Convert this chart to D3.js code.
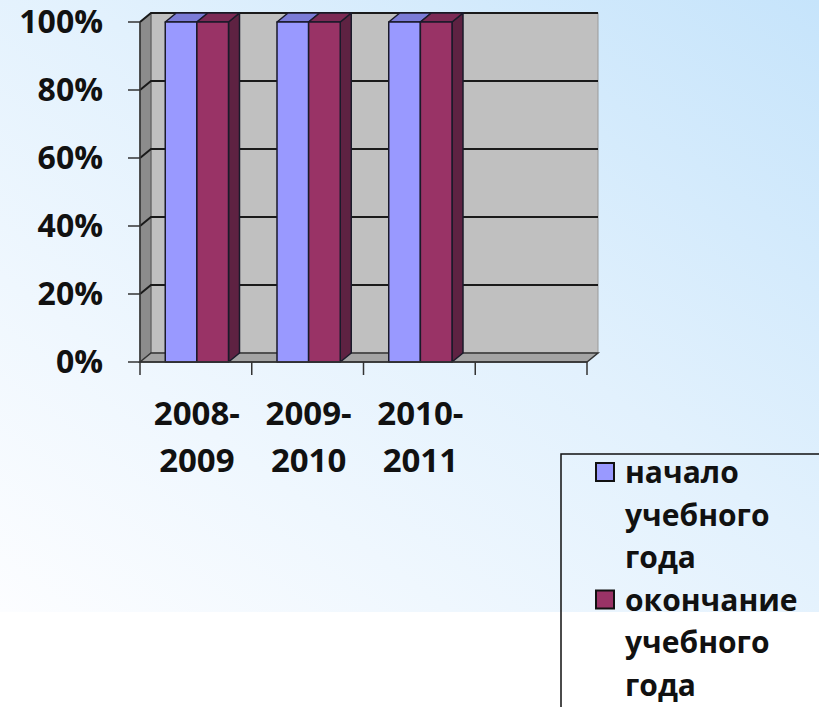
<!DOCTYPE html>
<html>
<head>
<meta charset="utf-8">
<script src="https://cdn.jsdelivr.net/npm/d3@7"></script>
<style>
  html, body { margin: 0; padding: 0; background: #fff; }
  svg { display: block; font-family: 'Open Sans', sans-serif; font-weight: bold; }
</style>
</head>
<body>
<svg id="chart" width="819" height="707"></svg>
<script>
const categories = ['2008-2009', '2009-2010', '2010-2011', '']
const seriesNames = ['начало учебного года', 'окончание учебного года']
const startValues = [1, 1, 1, null]
const endValues = [1, 1, 1, null]
const yTicks = [0, 0.2, 0.4, 0.6, 0.8, 1]

const colors = ['#9999ff', '#993366']
const topColors = ['#7b7bd6', '#7c2a55']
const sideColors = ['#6f6fc0', '#5e2242']

const svg = d3.select('#chart')

// фон слайда
const defs = svg.append('defs')
const grad = defs.append('linearGradient')
  .attr('id', 'bg').attr('x1', '0').attr('y1', '1').attr('x2', '1').attr('y2', '0')
grad.append('stop').attr('offset', '0').attr('stop-color', '#fcfdff')
grad.append('stop').attr('offset', '0.55').attr('stop-color', '#e2f1fd')
grad.append('stop').attr('offset', '1').attr('stop-color', '#c6e4fb')
svg.append('rect').attr('width', 819).attr('height', 612).attr('fill', 'url(#bg)')

// псевдо-3D глубина
const dx = 11
const dy = -9

const x = d3.scaleBand().domain(categories).range([140, 587])
const y = d3.scaleLinear().domain([0, 1]).range([362, 22])

const walls = svg.append('g')
// задняя стенка
walls.append('rect')
  .attr('x', x.range()[0] + dx).attr('y', y(1) + dy)
  .attr('width', x.range()[1] - x.range()[0]).attr('height', y(0) - y(1))
  .attr('fill', '#c0c0c0').attr('stroke', '#9a9a9a').attr('stroke-width', 1)
// боковая стенка
walls.append('polygon')
  .attr('points', [[140, y(1)], [140 + dx, y(1) + dy], [140 + dx, y(0) + dy], [140, y(0)]].join(' '))
  .attr('fill', '#8c8c8c').attr('stroke', '#555').attr('stroke-width', 1)
// пол
walls.append('polygon')
  .attr('points', [[140, y(0)], [140 + dx, y(0) + dy], [587 + dx, y(0) + dy], [587, y(0)]].join(' '))
  .attr('fill', '#a4a4a4').attr('stroke', '#333').attr('stroke-width', 1.5)

// линии сетки
const grid = svg.append('g')
grid.selectAll('path').data(yTicks.filter(d => d > 0)).enter().append('path')
  .attr('d', d => `M140,${y(d)}L${140 + dx},${y(d) + dy}L${587 + dx},${y(d) + dy}`)
  .attr('fill', 'none').attr('stroke', '#1a1a1a').attr('stroke-width', 2)

// столбцы
const band = x.bandwidth()
const barW = band * 0.283
const series = [startValues, endValues]
const bars = svg.append('g')
categories.forEach((cat, i) => {
  series.forEach((vals, s) => {
    const v = vals[i]
    if (v == null) return
    const x0 = x(cat) + (band - 2 * barW) / 2 + 1 + s * barW
    const x1 = x0 + barW
    const y0 = y(0)
    const y1 = y(v)
    const g = bars.append('g').attr('stroke', '#1a1a2a').attr('stroke-width', 1.5)
      .attr('stroke-linejoin', 'round')
    g.append('polygon')
      .attr('points', [[x1, y1], [x1 + dx, y1 + dy], [x1 + dx, y0 + dy], [x1, y0]].join(' '))
      .attr('fill', sideColors[s])
    g.append('polygon')
      .attr('points', [[x0, y1], [x0 + dx, y1 + dy], [x1 + dx, y1 + dy], [x1, y1]].join(' '))
      .attr('fill', topColors[s])
    g.append('rect')
      .attr('x', x0).attr('y', y1).attr('width', barW).attr('height', y0 - y1)
      .attr('fill', colors[s])
  })
})

// ось Y
const yAxis = svg.append('g')
yAxis.append('line').attr('x1', 140).attr('x2', 140).attr('y1', y(1)).attr('y2', y(0))
  .attr('stroke', '#333').attr('stroke-width', 1.5)
yAxis.selectAll('line.tick').data(yTicks).enter().append('line').attr('class', 'tick')
  .attr('x1', 128).attr('x2', 140).attr('y1', d => y(d)).attr('y2', d => y(d))
  .attr('stroke', '#333').attr('stroke-width', 1.5)
yAxis.selectAll('text').data(yTicks).enter().append('text')
  .attr('x', 103).attr('y', d => y(d) + 11)
  .attr('text-anchor', 'end').attr('font-size', 32).attr('fill', '#111')
  .text(d => d3.format('.0%')(d))

// ось X
const xAxis = svg.append('g')
xAxis.append('line').attr('x1', 140).attr('x2', 587).attr('y1', y(0)).attr('y2', y(0))
  .attr('stroke', '#333').attr('stroke-width', 1.5)
const xTicks = categories.map(c => x(c)).concat([x.range()[1]])
xAxis.selectAll('line.tick').data(xTicks).enter().append('line').attr('class', 'tick')
  .attr('x1', d => d).attr('x2', d => d).attr('y1', y(0)).attr('y2', y(0) + 13)
  .attr('stroke', '#333').attr('stroke-width', 1.5)
const xLabels = xAxis.selectAll('text').data(categories.filter(c => c)).enter().append('text')
  .attr('text-anchor', 'middle').attr('font-size', 33).attr('fill', '#111')
xLabels.each(function (d) {
  const parts = d.split('-')
  const t = d3.select(this)
  t.append('tspan').attr('x', x(d) + band / 2 + 1).attr('y', 425).text(parts[0] + '-')
  t.append('tspan').attr('x', x(d) + band / 2 + 1).attr('y', 472).text(parts[1])
})

// легенда
const legend = svg.append('g')
legend.append('rect').attr('x', 561).attr('y', 454).attr('width', 300).attr('height', 300)
  .attr('fill', 'none').attr('stroke', '#111').attr('stroke-width', 1.5)
seriesNames.forEach((name, s) => {
  const lines = name.split(' ')
  const base = 483 + s * 3 * 42.5
  legend.append('rect').attr('x', 596).attr('y', base - 20).attr('width', 18).attr('height', 18)
    .attr('fill', colors[s]).attr('stroke', '#111').attr('stroke-width', 2)
  lines.forEach((l, j) => {
    legend.append('text').attr('x', 625).attr('y', base + j * 42.5)
      .attr('font-size', 30).attr('fill', '#111').text(l)
  })
})
</script>
</body>
</html>
